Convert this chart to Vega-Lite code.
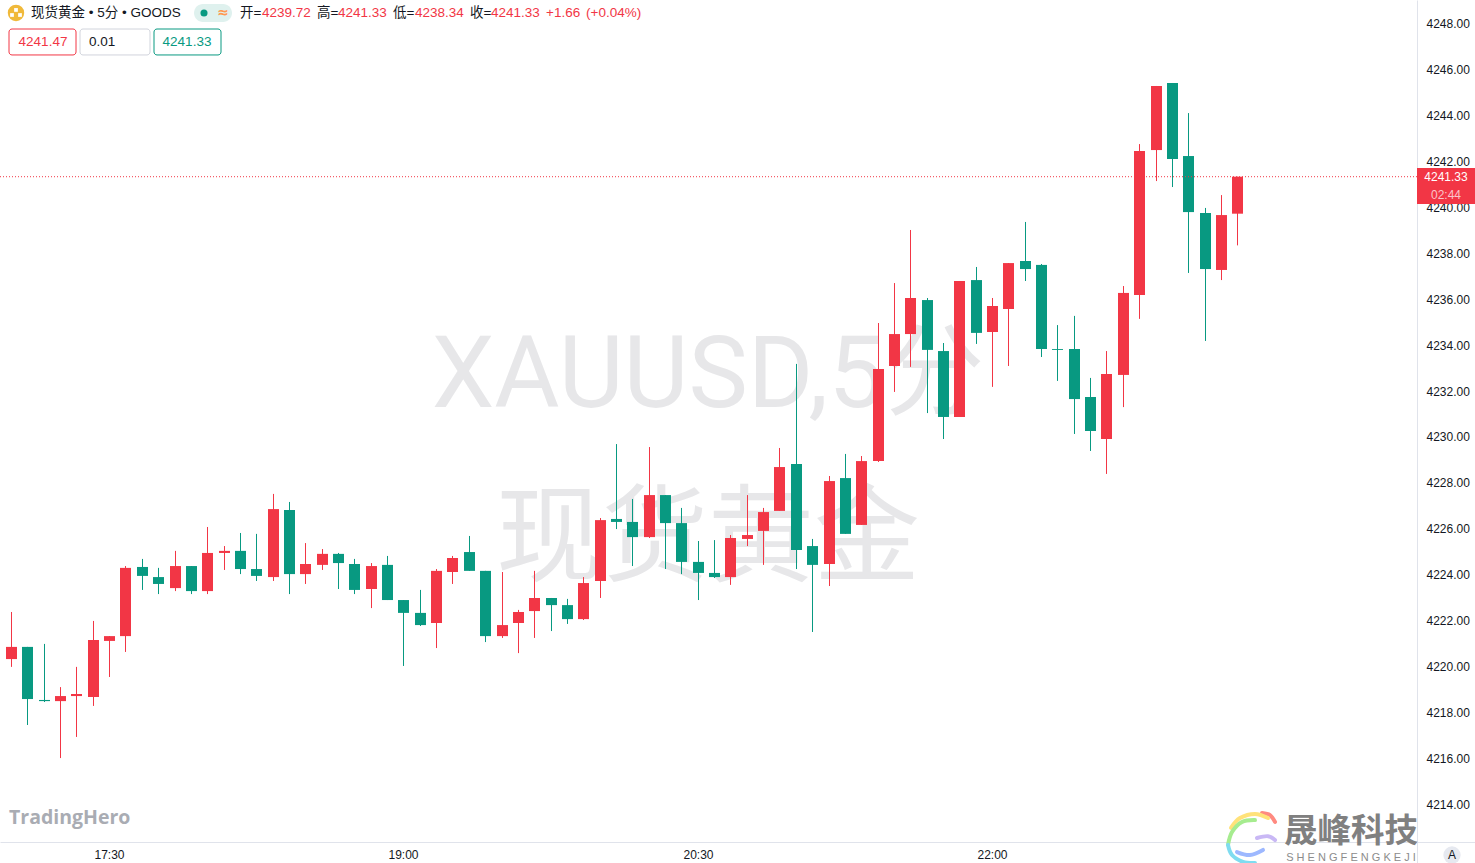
{
"$schema":"https://vega.github.io/schema/vega-lite/v6.json",
"width":1475,"height":863,"padding":0,"autosize":{"type":"none"},"background":"#ffffff",
"config":{"view":{"stroke":null},"font":"Liberation Sans"},
"datasets":{
"bars":[
{"t":"2025-12-05T17:00:00Z","o":4220.33,"h":4222.38,"l":4219.99,"c":4220.86},
{"t":"2025-12-05T17:05:00Z","o":4220.86,"h":4220.86,"l":4217.46,"c":4218.59},
{"t":"2025-12-05T17:10:00Z","o":4218.55,"h":4220.99,"l":4218.46,"c":4218.50},
{"t":"2025-12-05T17:15:00Z","o":4218.50,"h":4219.11,"l":4216.02,"c":4218.72},
{"t":"2025-12-05T17:20:00Z","o":4218.72,"h":4219.99,"l":4216.94,"c":4218.81},
{"t":"2025-12-05T17:25:00Z","o":4218.68,"h":4221.99,"l":4218.29,"c":4221.16},
{"t":"2025-12-05T17:30:00Z","o":4221.12,"h":4221.33,"l":4219.55,"c":4221.33},
{"t":"2025-12-05T17:35:00Z","o":4221.33,"h":4224.38,"l":4220.64,"c":4224.30},
{"t":"2025-12-05T17:40:00Z","o":4224.34,"h":4224.69,"l":4223.34,"c":4223.95},
{"t":"2025-12-05T17:45:00Z","o":4223.90,"h":4224.30,"l":4223.16,"c":4223.60},
{"t":"2025-12-05T17:50:00Z","o":4223.42,"h":4225.04,"l":4223.29,"c":4224.38},
{"t":"2025-12-05T17:55:00Z","o":4224.38,"h":4224.38,"l":4223.16,"c":4223.29},
{"t":"2025-12-05T18:00:00Z","o":4223.29,"h":4226.08,"l":4223.16,"c":4224.95},
{"t":"2025-12-05T18:05:00Z","o":4224.95,"h":4225.25,"l":4224.21,"c":4225.04},
{"t":"2025-12-05T18:10:00Z","o":4225.04,"h":4225.82,"l":4224.03,"c":4224.25},
{"t":"2025-12-05T18:15:00Z","o":4224.25,"h":4225.78,"l":4223.73,"c":4223.95},
{"t":"2025-12-05T18:20:00Z","o":4223.90,"h":4227.52,"l":4223.73,"c":4226.86},
{"t":"2025-12-05T18:25:00Z","o":4226.82,"h":4227.17,"l":4223.16,"c":4224.03},
{"t":"2025-12-05T18:30:00Z","o":4224.03,"h":4225.38,"l":4223.60,"c":4224.47},
{"t":"2025-12-05T18:35:00Z","o":4224.43,"h":4225.12,"l":4224.21,"c":4224.91},
{"t":"2025-12-05T18:40:00Z","o":4224.91,"h":4224.95,"l":4223.38,"c":4224.51},
{"t":"2025-12-05T18:45:00Z","o":4224.47,"h":4224.69,"l":4223.16,"c":4223.34},
{"t":"2025-12-05T18:50:00Z","o":4223.38,"h":4224.51,"l":4222.55,"c":4224.38},
{"t":"2025-12-05T18:55:00Z","o":4224.43,"h":4224.82,"l":4222.90,"c":4222.90},
{"t":"2025-12-05T19:00:00Z","o":4222.90,"h":4222.90,"l":4220.03,"c":4222.34},
{"t":"2025-12-05T19:05:00Z","o":4222.34,"h":4223.34,"l":4221.77,"c":4221.81},
{"t":"2025-12-05T19:10:00Z","o":4221.90,"h":4224.25,"l":4220.81,"c":4224.17},
{"t":"2025-12-05T19:15:00Z","o":4224.12,"h":4224.82,"l":4223.60,"c":4224.73},
{"t":"2025-12-05T19:20:00Z","o":4224.99,"h":4225.69,"l":4224.17,"c":4224.17},
{"t":"2025-12-05T19:25:00Z","o":4224.17,"h":4224.17,"l":4221.07,"c":4221.33},
{"t":"2025-12-05T19:30:00Z","o":4221.33,"h":4224.12,"l":4221.25,"c":4221.81},
{"t":"2025-12-05T19:35:00Z","o":4221.90,"h":4222.47,"l":4220.59,"c":4222.38},
{"t":"2025-12-05T19:40:00Z","o":4222.42,"h":4224.17,"l":4221.25,"c":4222.99},
{"t":"2025-12-05T19:45:00Z","o":4222.99,"h":4222.99,"l":4221.55,"c":4222.68},
{"t":"2025-12-05T19:50:00Z","o":4222.68,"h":4222.95,"l":4221.86,"c":4222.07},
{"t":"2025-12-05T19:55:00Z","o":4222.07,"h":4223.90,"l":4222.03,"c":4223.64},
{"t":"2025-12-05T20:00:00Z","o":4223.73,"h":4226.47,"l":4222.99,"c":4226.38},
{"t":"2025-12-05T20:05:00Z","o":4226.43,"h":4229.69,"l":4225.99,"c":4226.30},
{"t":"2025-12-05T20:10:00Z","o":4226.30,"h":4227.30,"l":4224.38,"c":4225.64},
{"t":"2025-12-05T20:15:00Z","o":4225.64,"h":4229.56,"l":4225.60,"c":4227.47},
{"t":"2025-12-05T20:20:00Z","o":4227.47,"h":4227.47,"l":4224.25,"c":4226.25},
{"t":"2025-12-05T20:25:00Z","o":4226.25,"h":4226.91,"l":4224.03,"c":4224.56},
{"t":"2025-12-05T20:30:00Z","o":4224.56,"h":4225.47,"l":4222.90,"c":4224.08},
{"t":"2025-12-05T20:35:00Z","o":4224.08,"h":4225.51,"l":4223.86,"c":4223.90},
{"t":"2025-12-05T20:40:00Z","o":4223.90,"h":4225.73,"l":4223.56,"c":4225.60},
{"t":"2025-12-05T20:45:00Z","o":4225.56,"h":4227.47,"l":4225.25,"c":4225.73},
{"t":"2025-12-05T20:50:00Z","o":4225.91,"h":4226.91,"l":4224.43,"c":4226.73},
{"t":"2025-12-05T20:55:00Z","o":4226.78,"h":4229.52,"l":4226.78,"c":4228.69},
{"t":"2025-12-05T21:00:00Z","o":4228.82,"h":4233.18,"l":4224.25,"c":4225.08},
{"t":"2025-12-05T21:05:00Z","o":4225.25,"h":4225.56,"l":4221.51,"c":4224.43},
{"t":"2025-12-05T21:10:00Z","o":4224.47,"h":4228.30,"l":4223.51,"c":4228.08},
{"t":"2025-12-05T21:15:00Z","o":4228.21,"h":4229.26,"l":4225.78,"c":4225.78},
{"t":"2025-12-05T21:20:00Z","o":4226.17,"h":4229.17,"l":4226.17,"c":4228.95},
{"t":"2025-12-05T21:25:00Z","o":4228.95,"h":4234.96,"l":4228.91,"c":4232.96},
{"t":"2025-12-05T21:30:00Z","o":4233.09,"h":4236.70,"l":4231.96,"c":4234.48},
{"t":"2025-12-05T21:35:00Z","o":4234.48,"h":4239.01,"l":4233.05,"c":4236.05},
{"t":"2025-12-05T21:40:00Z","o":4235.96,"h":4236.05,"l":4231.04,"c":4233.79},
{"t":"2025-12-05T21:45:00Z","o":4233.74,"h":4234.09,"l":4229.91,"c":4230.87},
{"t":"2025-12-05T21:50:00Z","o":4230.87,"h":4236.79,"l":4230.87,"c":4236.79},
{"t":"2025-12-05T21:55:00Z","o":4236.83,"h":4237.40,"l":4234.05,"c":4234.53},
{"t":"2025-12-05T22:00:00Z","o":4234.57,"h":4236.05,"l":4232.18,"c":4235.70},
{"t":"2025-12-05T22:05:00Z","o":4235.57,"h":4237.57,"l":4233.09,"c":4237.57},
{"t":"2025-12-05T22:10:00Z","o":4237.66,"h":4239.36,"l":4236.79,"c":4237.31},
{"t":"2025-12-05T22:15:00Z","o":4237.49,"h":4237.53,"l":4233.48,"c":4233.83},
{"t":"2025-12-05T22:20:00Z","o":4233.83,"h":4234.87,"l":4232.44,"c":4233.79},
{"t":"2025-12-05T22:25:00Z","o":4233.83,"h":4235.27,"l":4230.13,"c":4231.65},
{"t":"2025-12-05T22:30:00Z","o":4231.74,"h":4232.57,"l":4229.39,"c":4230.26},
{"t":"2025-12-05T22:35:00Z","o":4229.91,"h":4233.74,"l":4228.39,"c":4232.74},
{"t":"2025-12-05T22:40:00Z","o":4232.70,"h":4236.57,"l":4231.30,"c":4236.27},
{"t":"2025-12-05T22:45:00Z","o":4236.18,"h":4242.75,"l":4235.14,"c":4242.45},
{"t":"2025-12-05T22:50:00Z","o":4242.49,"h":4245.28,"l":4241.14,"c":4245.28},
{"t":"2025-12-05T22:55:00Z","o":4245.41,"h":4245.41,"l":4240.88,"c":4242.10},
{"t":"2025-12-05T23:00:00Z","o":4242.23,"h":4244.10,"l":4237.14,"c":4239.79},
{"t":"2025-12-05T23:05:00Z","o":4239.75,"h":4239.97,"l":4234.18,"c":4237.31},
{"t":"2025-12-05T23:10:00Z","o":4237.27,"h":4240.53,"l":4236.83,"c":4239.66},
{"t":"2025-12-05T23:15:00Z","o":4239.72,"h":4241.33,"l":4238.34,"c":4241.33}
],
"head":[
{"t":"2025-12-05T17:06:07Z","p":4248.46,"label":"现货黄金 • 5分 • GOODS","kind":"dark"},
{"t":"2025-12-05T18:10:02Z","p":4248.46,"label":"开=","kind":"dark"},
{"t":"2025-12-05T18:16:45Z","p":4248.46,"label":"4239.72","kind":"red"},
{"t":"2025-12-05T18:33:35Z","p":4248.46,"label":"高=","kind":"dark"},
{"t":"2025-12-05T18:40:00Z","p":4248.46,"label":"4241.33","kind":"red"},
{"t":"2025-12-05T18:56:49Z","p":4248.46,"label":"低=","kind":"dark"},
{"t":"2025-12-05T19:03:33Z","p":4248.46,"label":"4238.34","kind":"red"},
{"t":"2025-12-05T19:20:22Z","p":4248.46,"label":"收=","kind":"dark"},
{"t":"2025-12-05T19:26:47Z","p":4248.46,"label":"4241.33","kind":"red"},
{"t":"2025-12-05T19:43:36Z","p":4248.46,"label":"+1.66","kind":"red"},
{"t":"2025-12-05T19:55:51Z","p":4248.46,"label":"(+0.04%)","kind":"red"},
{"t":"2025-12-05T17:23:51Z","p":4247.19,"label":"0.01","kind":"dark"}
],
"boxes":[
{"t":"2025-12-05T16:59:23Z","t2":"2025-12-05T17:19:53Z","p":4247.76,"p2":4246.63,"kind":"red"},
{"t":"2025-12-05T17:21:06Z","t2":"2025-12-05T17:42:30Z","p":4247.76,"p2":4246.63,"kind":"grey"},
{"t":"2025-12-05T17:43:44Z","t2":"2025-12-05T18:04:13Z","p":4247.76,"p2":4246.63,"kind":"green"}
],
"boxtext":[
{"t":"2025-12-05T17:09:38Z","p":4247.19,"label":"4241.47","kind":"red"},
{"t":"2025-12-05T17:53:58Z","p":4247.19,"label":"4241.33","kind":"green"}
],
"pill":[{"t":"2025-12-05T17:55:58Z","t2":"2025-12-05T18:07:35Z","p":4248.85,"p2":4248.07}],
"last":[{"t":"2025-12-05T16:56:38Z","t2":"2025-12-06T00:10:00Z","p":4241.33}],
"tag":[{"t":"2025-12-06T00:10:00Z","t2":"2025-12-06T00:27:42Z","p":4241.71,"p2":4240.14}],
"tagtext":[
{"t":"2025-12-06T00:18:51Z","p":4241.33,"label":"4241.33","kind":"a"},
{"t":"2025-12-06T00:18:51Z","p":4240.53,"label":"02:44","kind":"b"}
],
"logo":[
{"t":"2025-12-05T23:22:34Z","p":4213.63,"i":1,"kind":"s1"},
{"t":"2025-12-05T23:25:01Z","p":4213.54,"i":2,"kind":"s1"},
{"t":"2025-12-05T23:26:33Z","p":4213.24,"i":3,"kind":"s1"},
{"t":"2025-12-05T23:24:24Z","p":4213.41,"i":1,"kind":"s2"},
{"t":"2025-12-05T23:20:26Z","p":4213.59,"i":2,"kind":"s2"},
{"t":"2025-12-05T23:15:51Z","p":4213.41,"i":3,"kind":"s2"},
{"t":"2025-12-05T23:13:06Z","p":4212.98,"i":4,"kind":"s2"},
{"t":"2025-12-05T23:20:26Z","p":4213.32,"i":1,"kind":"s3"},
{"t":"2025-12-05T23:16:28Z","p":4213.24,"i":2,"kind":"s3"},
{"t":"2025-12-05T23:13:24Z","p":4212.80,"i":3,"kind":"s3"},
{"t":"2025-12-05T23:12:11Z","p":4212.24,"i":4,"kind":"s3"},
{"t":"2025-12-05T23:12:11Z","p":4212.24,"i":1,"kind":"s4"},
{"t":"2025-12-05T23:13:24Z","p":4211.80,"i":2,"kind":"s4"},
{"t":"2025-12-05T23:16:46Z","p":4211.50,"i":3,"kind":"s4"},
{"t":"2025-12-05T23:20:26Z","p":4211.45,"i":4,"kind":"s4"},
{"t":"2025-12-05T23:14:56Z","p":4211.93,"i":1,"kind":"s5"},
{"t":"2025-12-05T23:18:54Z","p":4211.80,"i":2,"kind":"s5"},
{"t":"2025-12-05T23:22:53Z","p":4212.02,"i":3,"kind":"s5"},
{"t":"2025-12-05T23:21:03Z","p":4212.54,"i":1,"kind":"s6"},
{"t":"2025-12-05T23:24:24Z","p":4212.62,"i":2,"kind":"s6"},
{"t":"2025-12-05T23:26:33Z","p":4212.45,"i":3,"kind":"s6"}
]
},
"encoding":{
"x":{"field":"t","type":"temporal","title":null,
 "scale":{"type":"utc","round":true,"nice":false,"padding":0,"domain":[{"year":2025,"month":12,"date":5,"hours":16,"minutes":56,"seconds":38,"utc":true},{"year":2025,"month":12,"date":6,"hours":0,"minutes":27,"seconds":42,"utc":true}]},
 "axis":{"orient":"bottom","offset":-21,"format":"%H:%M","grid":false,"ticks":false,"domainColor":"#e0e3eb","labelColor":"#131722","labelFontSize":12,"labelFont":"Liberation Sans","labelPadding":7,"labelOverlap":false,"labelFlush":false,
  "values":[{"year":2025,"month":12,"date":5,"hours":17,"minutes":30,"utc":true},{"year":2025,"month":12,"date":5,"hours":19,"minutes":0,"utc":true},{"year":2025,"month":12,"date":5,"hours":20,"minutes":30,"utc":true},{"year":2025,"month":12,"date":5,"hours":22,"minutes":0,"utc":true}]}},
"y":{"field":"p","type":"quantitative","title":null,
 "scale":{"domain":[4211.452,4249.023],"nice":false,"zero":false,"padding":0},
 "axis":{"orient":"right","offset":-58,"format":".2f","grid":false,"ticks":false,"domainColor":"#e0e3eb","labelColor":"#131722","labelFontSize":12,"labelFont":"Liberation Sans","labelPadding":9,"labelOverlap":false,"labelFlush":false,
  "values":[4214,4216,4218,4220,4222,4224,4226,4228,4230,4232,4234,4236,4238,4240,4242,4244,4246,4248]}}
},
"layer":[
{"data":{"values":[{"t":"2025-12-05T20:33:09Z","p":4232.61,"label":"XAUUSD,5分"}]},"mark":{"type":"text","font":"Roboto, Noto Sans CJK SC","fontSize":100,"align":"center","baseline":"middle","color":"#e7e7e9"},"encoding":{"text":{"field":"label"}}},
{"data":{"values":[{"t":"2025-12-05T20:33:09Z","p":4225.47,"label":"现货黄金"}]},"mark":{"type":"text","font":"Noto Sans CJK SC","fontSize":106,"align":"center","baseline":"middle","color":"#e7e7e9"},"encoding":{"text":{"field":"label"}}},
{"data":{"name":"bars"},"mark":{"type":"rule","strokeWidth":1,"xOffset":0.5},
 "encoding":{"y":{"field":"l","type":"quantitative","title":null},"y2":{"field":"h"},
 "color":{"condition":{"test":"datum.c>=datum.o","value":"#f23645"},"value":"#089981"}}},
{"data":{"name":"bars"},"mark":{"type":"bar","size":11,"xOffset":0.5},
 "encoding":{"y":{"field":"o","type":"quantitative","title":null},"y2":{"field":"c"},
 "color":{"condition":{"test":"datum.c>=datum.o","value":"#f23645"},"value":"#089981"}}},
{"data":{"name":"last"},"mark":{"type":"rule","color":"#f23645","strokeWidth":1,"strokeDash":[1,2]},"encoding":{"x2":{"field":"t2"}}},
{"data":{"name":"tag"},"mark":{"type":"rect","color":"#f23645"},"encoding":{"x2":{"field":"t2"},"y2":{"field":"p2"}}},
{"data":{"name":"tagtext"},"mark":{"type":"text","fontSize":12,"align":"center","baseline":"middle"},"encoding":{"text":{"field":"label"},"color":{"field":"kind","type":"nominal","legend":null,"scale":{"domain":["a","b","dark","red","green","s1","s2","s3","s4","s5","s6"],"range":["#ffffff","#fbc4c9","#131722","#f23645","#089981","#ff8a80","#ffe27a","#a6ec8f","#7fdcf0","#9db8ff","#c9b8f5"]}}}},
{"data":{"name":"boxes"},"mark":{"type":"rect","fill":"#ffffff","strokeWidth":1,"cornerRadius":3},"encoding":{"x2":{"field":"t2"},"y2":{"field":"p2"},"stroke":{"field":"kind","type":"nominal","legend":null,"scale":{"domain":["red","grey","green"],"range":["#f23645","#d1d4dc","#089981"]}}}},
{"data":{"name":"pill"},"mark":{"type":"rect","color":"#dff1ee","cornerRadius":9},"encoding":{"x2":{"field":"t2"},"y2":{"field":"p2"}}},
{"data":{"values":[{"t":"2025-12-05T17:59:01Z","p":4248.46}]},"mark":{"type":"point","filled":true,"color":"#089981","size":50,"opacity":1}},
{"data":{"values":[{"t":"2025-12-05T18:04:50Z","p":4248.46,"label":"≈"}]},"mark":{"type":"text","color":"#ff9850","fontSize":14,"fontWeight":"bold","align":"center","baseline":"middle","font":"DejaVu Sans"},"encoding":{"text":{"field":"label"}}},
{"data":{"values":[{"t":"2025-12-05T17:01:32Z","p":4248.46}]},"mark":{"type":"point","filled":true,"color":"#f0b93a","size":270,"opacity":1}},
{"data":{"values":[{"t":"2025-12-05T17:01:32Z","p":4248.59},{"t":"2025-12-05T17:00:27Z","p":4248.37},{"t":"2025-12-05T17:02:36Z","p":4248.37}]},"mark":{"type":"point","shape":"square","filled":true,"color":"#ffffff","size":14,"opacity":1}},
{"data":{"name":"head"},"mark":{"type":"text","font":"Liberation Sans, Noto Sans CJK SC","fontSize":13.5,"align":"left","baseline":"middle"},"encoding":{"text":{"field":"label"},"color":{"field":"kind","type":"nominal","legend":null}}},
{"data":{"name":"boxtext"},"mark":{"type":"text","fontSize":13.5,"align":"center","baseline":"middle"},"encoding":{"text":{"field":"label"},"color":{"field":"kind","type":"nominal","legend":null}}},
{"data":{"values":[{"t":"2025-12-05T16:59:23Z","p":4213.41,"label":"TradingHero"}]},"mark":{"type":"text","font":"Open Sans","fontSize":19.5,"fontWeight":"bold","align":"left","baseline":"middle","color":"#a9acb3"},"encoding":{"text":{"field":"label"}}},
{"data":{"name":"logo"},"mark":{"type":"line","interpolate":"cardinal","strokeWidth":4,"strokeCap":"round"},"encoding":{"order":{"field":"i"},"color":{"field":"kind","type":"nominal","legend":null}}},
{"data":{"values":[{"t":"2025-12-05T23:49:48Z","p":4212.80,"label":"晟峰科技"}]},"mark":{"type":"text","font":"Noto Sans CJK SC","fontSize":33.5,"fontWeight":"bold","align":"center","baseline":"middle","color":"#808080"},"encoding":{"text":{"field":"label"}}},
{"data":{"values":[{"t":"2025-12-05T23:49:48Z","p":4211.67,"label":"S H E N G F E N G K E J I"}]},"mark":{"type":"text","fontSize":11,"align":"center","baseline":"middle","color":"#8c8c8c"},"encoding":{"text":{"field":"label"}}},
{"data":{"values":[{"t":"2025-12-06T00:20:41Z","p":4211.80}]},"mark":{"type":"point","filled":true,"color":"#e6e9f0","size":300,"opacity":1}},
{"data":{"values":[{"t":"2025-12-06T00:20:41Z","p":4211.80,"label":"A"}]},"mark":{"type":"text","fontSize":12,"align":"center","baseline":"middle","color":"#131722"},"encoding":{"text":{"field":"label"}}}
]
}
